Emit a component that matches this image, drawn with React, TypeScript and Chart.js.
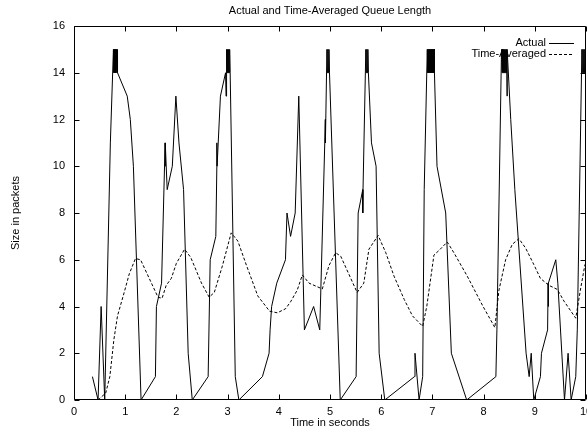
import React, { useEffect, useRef } from 'react';
import { Chart, registerables } from 'chart.js';

Chart.register(...registerables);

const CHART_TITLE = 'Actual and Time-Averaged Queue Length';
const X_TITLE = 'Time in seconds';
const Y_TITLE = 'Size in packets';
const SERIES_NAMES = ['Actual', 'Time-Averaged'];

const actualTimes = [
  0.36, 0.47, 0.53, 0.60, 0.71, 0.77, 0.78, 0.79, 0.80, 0.81, 0.82, 0.83, 0.84, 0.85, 0.85,
  1.04, 1.10, 1.16, 1.31, 1.59, 1.61, 1.71, 1.78, 1.78, 1.785, 1.82, 1.92, 1.99, 2.05, 2.14,
  2.23, 2.31, 2.62, 2.66, 2.77, 2.79, 2.79, 2.795, 2.86, 2.96, 2.97, 2.98, 2.99, 3.00, 3.01,
  3.02, 3.03, 3.04, 3.05, 3.15, 3.22, 3.68, 3.81, 3.83, 3.86, 3.96, 4.13, 4.16, 4.23, 4.32,
  4.39, 4.50, 4.68, 4.80, 4.91, 4.91, 4.94, 4.95, 4.96, 4.97, 4.98, 4.99, 5.20, 5.51, 5.55,
  5.64, 5.64, 5.645, 5.70, 5.71, 5.72, 5.73, 5.74, 5.75, 5.81, 5.90, 5.96, 6.07, 6.65, 6.66,
  6.74, 6.81, 6.84, 6.90, 6.91, 6.92, 6.93, 6.94, 6.95, 6.96, 6.97, 6.98, 6.99, 7.00, 7.01,
  7.02, 7.03, 7.04, 7.04, 7.09, 7.26, 7.37, 7.67, 8.24, 8.26, 8.35, 8.36, 8.37, 8.38, 8.39,
  8.40, 8.41, 8.42, 8.43, 8.44, 8.45, 8.46, 8.46, 8.53, 8.61, 8.83, 8.89, 8.93, 8.98, 9.11,
  9.13, 9.25, 9.26, 9.26, 9.27, 9.41, 9.45, 9.58, 9.65, 9.71, 9.80, 9.83, 9.92, 9.93, 9.94,
  9.95, 9.96, 9.97, 9.98, 9.99, 10.00,
];
const actualSizes = [
  1, 0, 4, 0, 11, 15, 14, 15, 14, 15, 14, 15, 14, 15, 14,
  13, 12, 10, 0, 1, 4, 5, 11, 10, 11, 9, 10, 13, 11, 9,
  2, 0, 1, 6, 7, 10, 11, 10, 13, 14, 13, 15, 14, 15, 14,
  15, 14, 15, 14, 1, 0, 1, 2, 3, 4, 5, 6, 8, 7, 8,
  13, 3, 4, 3, 12, 11, 15, 14, 15, 14, 15, 14, 0, 1, 8,
  9, 8, 9, 15, 14, 15, 14, 15, 14, 11, 10, 2, 0, 1, 2,
  0, 1, 9, 15, 14, 15, 14, 15, 14, 15, 14, 15, 14, 15, 14,
  15, 14, 15, 14, 10, 8, 2, 0, 1, 3, 15, 14, 15, 14, 15,
  14, 15, 14, 15, 14, 15, 13, 15, 12, 9, 2, 1, 2, 0, 1,
  2, 3, 5, 4, 5, 6, 5, 0, 2, 0, 1, 3, 15, 14, 15,
  14, 15, 14, 15, 14, 15,
];

const averagedTimes = [
  0.47, 0.62, 0.70, 0.78, 0.85, 0.98, 1.08, 1.20, 1.30, 1.47, 1.64, 1.72, 1.80, 1.90, 2.00,
  2.16, 2.28, 2.49, 2.64, 2.74, 2.90, 3.07, 3.20, 3.37, 3.59, 3.82, 3.97, 4.13, 4.23, 4.36,
  4.46, 4.59, 4.85, 4.98, 5.11, 5.21, 5.53, 5.66, 5.76, 5.94, 6.09, 6.25, 6.45, 6.61, 6.81,
  6.89, 7.03, 7.13, 7.29, 7.42, 7.68, 7.99, 8.22, 8.30, 8.43, 8.56, 8.69, 8.82, 8.98, 9.11,
  9.28, 9.44, 9.57, 9.80, 9.89, 9.98,
];
const averagedSizes = [
  0.0, 0.3, 1.0, 2.6, 3.6, 4.6, 5.4, 6.05, 6.0, 5.2, 4.4, 4.35, 4.9, 5.2, 5.85,
  6.45, 6.1, 5.0, 4.4, 4.6, 5.75, 7.15, 6.8, 5.75, 4.45, 3.8, 3.73, 3.9, 4.2, 4.7,
  5.35, 5.0, 4.75, 5.75, 6.3, 6.15, 4.6, 5.0, 6.45, 7.04, 6.3, 5.3, 4.3, 3.6, 3.15,
  4.0, 6.2, 6.4, 6.76, 6.3, 5.3, 4.0, 3.1, 4.7, 6.0, 6.66, 6.9, 6.5, 5.8, 5.2,
  4.9, 4.73, 4.23, 3.5, 4.7, 5.8,
];

const FONT_FAMILY = '"Liberation Sans", Arial, Helvetica, sans-serif';
const FONT_SIZE = 11;
const TICK_LEN = 5;

const framePlugin = {
  id: 'gnuplotFrame',
  beforeDatasetsDraw(chart: any) {
    const { ctx, chartArea } = chart;
    const { right, top } = chartArea;
    ctx.save();
    ctx.font = `${FONT_SIZE}px ${FONT_FAMILY}`;
    ctx.fillStyle = '#000';
    ctx.textAlign = 'right';
    ctx.textBaseline = 'middle';
    const rows = [top + 17, top + 28];
    SERIES_NAMES.forEach((name, i) => {
      const y = rows[i];
      ctx.fillText(name, right - 40, y);
      ctx.beginPath();
      ctx.strokeStyle = '#000';
      ctx.lineWidth = 1;
      ctx.setLineDash(i === 0 ? [] : [3, 2]);
      ctx.moveTo(right - 37, Math.round(y) + 0.5);
      ctx.lineTo(right - 12, Math.round(y) + 0.5);
      ctx.stroke();
    });
    ctx.restore();
  },
  afterDatasetsDraw(chart: any) {
    const { ctx, chartArea, scales } = chart;
    const { left, right, top, bottom } = chartArea;
    ctx.save();
    ctx.strokeStyle = '#000';
    ctx.lineWidth = 1;
    ctx.setLineDash([]);
    const L = Math.round(left) + 0.5;
    const R = Math.round(right) - 0.5;
    const T = Math.round(top) + 0.5;
    const B = Math.round(bottom) - 0.5;
    ctx.beginPath();
    ctx.rect(L, T, R - L, B - T);
    ctx.stroke();
    ctx.beginPath();
    scales.x.ticks.forEach((t: any) => {
      const px = Math.round(scales.x.getPixelForValue(t.value)) + 0.5;
      ctx.moveTo(px, B);
      ctx.lineTo(px, B - TICK_LEN);
      ctx.moveTo(px, T);
      ctx.lineTo(px, T + TICK_LEN);
    });
    scales.y.ticks.forEach((t: any) => {
      const py = Math.round(scales.y.getPixelForValue(t.value)) + 0.5;
      ctx.moveTo(L, py);
      ctx.lineTo(L + TICK_LEN, py);
      ctx.moveTo(R, py);
      ctx.lineTo(R - TICK_LEN, py);
    });
    ctx.stroke();
    ctx.restore();
  },
  afterDraw(chart: any) {
    const { ctx, chartArea } = chart;
    const { left, right, top, bottom } = chartArea;
    const cx = (left + right) / 2;
    const cy = (top + bottom) / 2;
    ctx.save();
    ctx.font = `${FONT_SIZE}px ${FONT_FAMILY}`;
    ctx.fillStyle = '#000';
    ctx.textAlign = 'center';
    ctx.textBaseline = 'middle';
    ctx.fillText(CHART_TITLE, cx, 11);
    ctx.fillText(X_TITLE, cx, 423);
    ctx.translate(16, cy);
    ctx.rotate(-Math.PI / 2);
    ctx.fillText(Y_TITLE, 0, 0);
    ctx.restore();
  },
};

export default function App() {
  const canvasRef = useRef<HTMLCanvasElement | null>(null);

  useEffect(() => {
    const canvas = canvasRef.current;
    if (!canvas) return;
    const chart = new Chart(canvas, {
      type: 'scatter',
      data: {
        datasets: [
          {
            label: SERIES_NAMES[0],
            data: actualTimes.map((t, i) => ({ x: t, y: actualSizes[i] })),
            showLine: true,
            borderColor: '#000',
            backgroundColor: '#000',
            borderWidth: 1,
            pointRadius: 0,
            fill: false,
            tension: 0,
          },
          {
            label: SERIES_NAMES[1],
            data: averagedTimes.map((t, i) => ({ x: t, y: averagedSizes[i] })),
            showLine: true,
            borderColor: '#000',
            backgroundColor: '#000',
            borderWidth: 1,
            borderDash: [3, 2],
            pointRadius: 0,
            fill: false,
            tension: 0,
          },
        ],
      },
      options: {
        responsive: false,
        animation: false,
        devicePixelRatio: 1,
        layout: { padding: { left: 0, right: 1, top: 26, bottom: 0 } },
        plugins: {
          legend: { display: false },
          title: { display: false },
          tooltip: { enabled: false },
        },
        scales: {
          x: {
            type: 'linear',
            min: 0,
            max: 10,
            ticks: {
              stepSize: 1,
              autoSkip: false,
              maxRotation: 0,
              color: '#000',
              padding: 5,
              font: { family: FONT_FAMILY, size: FONT_SIZE },
            },
            grid: { display: false, drawTicks: false },
            border: { display: false },
            afterFit: (s: any) => {
              s.height = 32;
              s.paddingLeft = 0;
              s.paddingRight = 0;
            },
          },
          y: {
            type: 'linear',
            min: 0,
            max: 16,
            ticks: {
              stepSize: 2,
              color: '#000',
              padding: 9,
              font: { family: FONT_FAMILY, size: FONT_SIZE },
            },
            grid: { display: false, drawTicks: false },
            border: { display: false },
            afterFit: (s: any) => {
              s.width = 74;
              s.paddingTop = 0;
              s.paddingBottom = 0;
            },
          },
        },
      } as any,
      plugins: [framePlugin],
    });
    return () => chart.destroy();
  }, []);

  return (
    <div style={{ position: 'absolute', left: 0, top: 0, width: 587, height: 432, background: '#fff' }}>
      <canvas ref={canvasRef} width={587} height={432} style={{ display: 'block' }} />
    </div>
  );
}
